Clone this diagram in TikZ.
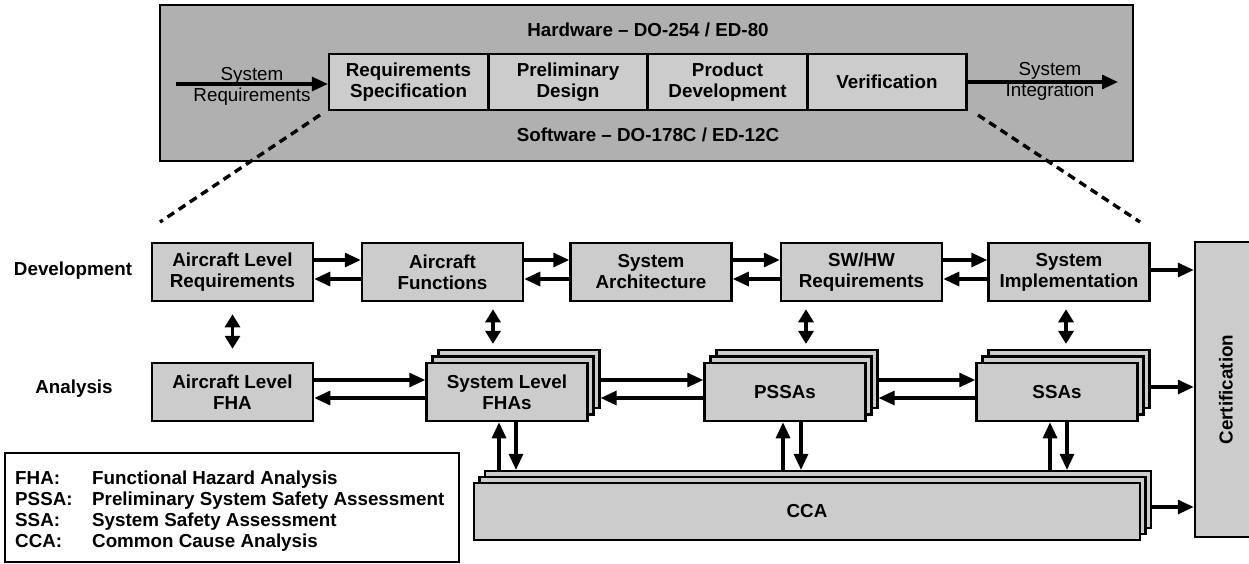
\documentclass[tikz,border=0pt]{standalone}
\usepackage{fontspec}
\setmainfont{Liberation Sans}
\usetikzlibrary{arrows.meta}
\definecolor{outergray}{RGB}{176,176,176}
\definecolor{boxgray}{RGB}{204,204,204}
\tikzset{
  txt/.style={font=\fontsize{18.8}{21}\selectfont, align=center, inner sep=0pt},
  btxt/.style={font=\bfseries\fontsize{18.8}{21}\selectfont, align=center, inner sep=0pt},
  box/.style={draw, line width=2.5pt, fill=boxgray, minimum width=161pt, minimum height=58pt, btxt},
  topbox/.style={draw, line width=2.3pt, fill=boxgray, minimum width=159pt, minimum height=56pt, btxt},
  arr/.style={line width=3.1pt, -{Triangle[length=16pt,width=14pt]}},
  dbl/.style={line width=3.1pt, {Triangle[length=13pt,width=15pt]}-{Triangle[length=13pt,width=15pt]}},
  dashln/.style={line width=3.4pt, dash pattern=on 8pt off 5.5pt},
}
\begin{document}
\begin{tikzpicture}[x=1pt,y=-1pt]
\useasboundingbox (0,0) rectangle (1249,563);

% ---------- top process box ----------
\node[draw, line width=2.3pt, fill=outergray, minimum width=973pt, minimum height=156pt, inner sep=0pt] (hw) at (646.5,83) {};
\node[btxt] (hwlabel) at (648,30) {Hardware -- DO-254 / ED-80};
\node[btxt] (swlabel) at (648,135) {Software -- DO-178C / ED-12C};
\node[topbox] (rs) at (408.5,82) {Requirements\\Specification};
\node[topbox] (pd) at (568,82) {Preliminary\\Design};
\node[topbox] (pdev) at (727.5,82) {Product\\Development};
\node[topbox] (ver) at (887,82) {Verification};
\coordinate (sysreqstart) at (176,84);
\coordinate (sysintend) at (1118,82);
\draw[arr] (sysreqstart) -- (sysreqstart -| rs.west);
\node[txt] (sysreq) at (252,86) {System\\Requirements};
\draw[arr] (ver.east) -- (sysintend);
\node[txt] (sysint) at (1050,81) {System\\Integration};

% dashed zoom lines
\coordinate (dlA) at (320,115);
\coordinate (dlB) at (160,222);
\coordinate (drA) at (978,115);
\coordinate (drB) at (1140,222);
\draw[dashln] (dlA) -- (dlB);
\draw[dashln] (drA) -- (drB);

% ---------- row labels ----------
\node[btxt] (devlabel) at (73,271) {Development};
\node[btxt] (analabel) at (74,389) {Analysis};

% ---------- development row ----------
\node[box] (alr) at (232.5,272) {Aircraft Level\\Requirements};
\node[box] (af) at (442.5,272) {Aircraft\\Functions};
\node[box] (sa) at (651,272) {System\\Architecture};
\node[box] (swhw) at (861.5,272) {SW/HW\\Requirements};
\node[box] (si) at (1069,272) {System\\Implementation};

% ---------- certification ----------
\node[draw, line width=2.5pt, fill=boxgray, minimum width=67pt, minimum height=295pt, inner sep=0pt] (cert) at (1228.5,389.5) {};
\node[btxt, rotate=90] (certlabel) at (1226,389.5) {Certification};

% ---------- analysis row ----------
\node[box] (alfha) at (232.5,392) {Aircraft Level\\FHA};
\node[box, line width=2.2pt] (fha3) at (519,379) {};
\node[box, line width=2.2pt] (fha2) at (513,385.5) {};
\node[box] (fha) at (507,392) {System Level\\FHAs};
\node[box, line width=2.2pt] (pssa3) at (797,379) {};
\node[box, line width=2.2pt] (pssa2) at (791,385.5) {};
\node[box] (pssa) at (785,392) {PSSAs};
\node[box, line width=2.2pt] (ssa3) at (1069,379) {};
\node[box, line width=2.2pt] (ssa2) at (1063,385.5) {};
\node[box] (ssa) at (1057,392) {SSAs};

% ---------- CCA ----------
\node[box, line width=2.2pt, minimum width=666pt, minimum height=57pt] (cca3) at (818,499.5) {};
\node[box, line width=2.2pt, minimum width=666pt, minimum height=57pt] (cca2) at (812.5,505.5) {};
\node[box, minimum width=666pt, minimum height=57pt] (cca) at (807,511.5) {CCA};

% ---------- legend ----------
\node[draw, line width=2.3pt, fill=white, minimum width=454pt, minimum height=109pt, inner sep=0pt] (legend) at (232,507.5) {};
\node[btxt, anchor=north west, align=left] (legendtext) at (15,469.5) {%
\begin{tabular}{@{}p{77pt}@{}l@{}}
FHA: & Functional Hazard Analysis\\
PSSA: & Preliminary System Safety Assessment\\
SSA: & System Safety Assessment\\
CCA: & Common Cause Analysis
\end{tabular}};

% ---------- development arrows ----------
\foreach \a/\b in {alr/af, af/sa, sa/swhw, swhw/si}{
  \draw[arr] ([yshift=12pt]\a.east) -- ([yshift=12pt]\b.west);
  \draw[arr] ([yshift=-7pt]\b.west) -- ([yshift=-7pt]\a.east);
}
\draw[arr] ([yshift=2pt]si.east) -- ([yshift=2pt]si.east -| cert.west);

% ---------- analysis arrows ----------
\draw[arr] ([yshift=12pt]alfha.east) -- ([yshift=12pt]fha.west);
\draw[arr] ([yshift=-6pt]fha.west) -- ([yshift=-6pt]alfha.east);
\draw[arr] ([yshift=12pt]fha.east -| fha3.east) -- ([yshift=12pt]pssa.west);
\draw[arr] ([yshift=-6pt]pssa.west) -- ([yshift=-6pt]pssa.west -| fha3.east);
\draw[arr] ([yshift=12pt]pssa.east -| pssa3.east) -- ([yshift=12pt]ssa.west);
\draw[arr] ([yshift=-6pt]ssa.west) -- ([yshift=-6pt]ssa.west -| pssa3.east);
\draw[arr] ([yshift=5pt]ssa.east -| ssa3.east) -- ([yshift=5pt]ssa.east -| cert.west);
\draw[arr] ([yshift=4.5pt]cca.east -| cca3.east) -- ([yshift=4.5pt]cca.east -| cert.west);

% ---------- development <-> analysis ----------
\draw[dbl, shorten <=12pt, shorten >=13pt] (alr.south) -- (alfha.north);
\draw[dbl, shorten <=7pt, shorten >=5pt] ([xshift=50.5pt]af.south) -- ([xshift=50.5pt]af.south |- fha3.north);
\draw[dbl, shorten <=7pt, shorten >=5pt] ([xshift=-55.5pt]swhw.south) -- ([xshift=-55.5pt]swhw.south |- pssa3.north);
\draw[dbl, shorten <=7pt, shorten >=5pt] ([xshift=-3pt]si.south) -- ([xshift=-3pt]si.south |- ssa3.north);

% ---------- analysis <-> CCA ----------
\draw[arr] ([xshift=-8pt]fha.south |- cca3.north) -- ([xshift=-8pt]fha.south);
\draw[arr] ([xshift=9pt]fha.south) -- ([xshift=9pt]fha.south |- cca3.north);
\draw[arr] ([xshift=-2pt]pssa.south |- cca3.north) -- ([xshift=-2pt]pssa.south);
\draw[arr] ([xshift=16pt]pssa.south) -- ([xshift=16pt]pssa.south |- cca3.north);
\draw[arr] ([xshift=-7pt]ssa.south |- cca3.north) -- ([xshift=-7pt]ssa.south);
\draw[arr] ([xshift=10pt]ssa.south) -- ([xshift=10pt]ssa.south |- cca3.north);
\end{tikzpicture}
\end{document}
